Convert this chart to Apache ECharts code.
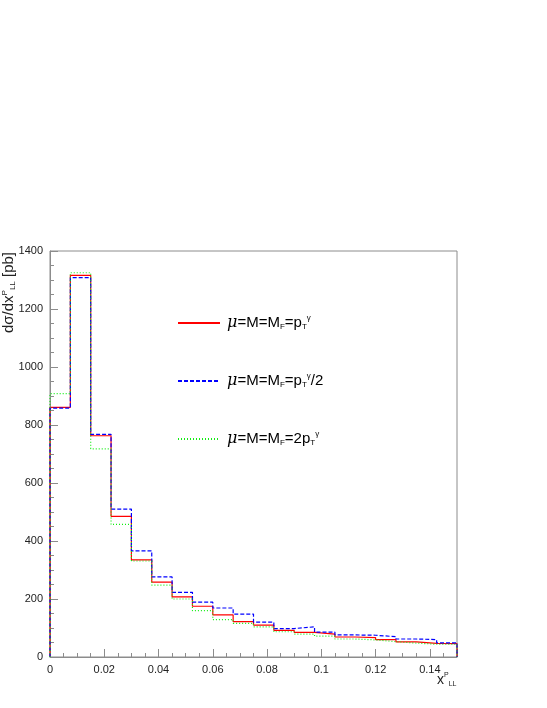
<!DOCTYPE html>
<html lang="en">
<head>
    <meta charset="utf-8">
    <title>dsigma/dx histogram</title>
    <script src="https://cdn.jsdelivr.net/npm/echarts@6/dist/echarts.min.js"></script>
    <style>
        html, body { margin: 0; padding: 0; background: #fff; }
        #chart { width: 547px; height: 708px; }
    </style>
</head>
<body>
    <div id="chart"></div>
    <script>
        // bin edges: 20 bins of 0.0075 from 0 to 0.15
        var binWidth = 0.0075;
        var xMax = 0.15;
        var yTicks = [0, 200, 400, 600, 800, 1000, 1200, 1400];

        var central = [861, 1316, 763, 485, 335, 258, 207, 175, 145, 122,
                       110, 92, 85, 79, 69, 67, 60, 52, 47, 46];
        var halfScale = [858, 1308, 768, 510, 366, 276, 223, 189, 169, 148,
                         120, 98, 104, 86, 76, 75, 70, 62, 60, 49];
        var doubleScale = [908, 1325, 718, 457, 331, 248, 200, 160, 129, 116,
                           104, 87, 79, 72, 62, 59, 53, 48, 44, 44];

        var names = ['central', 'half', 'double'];

        // turn bin contents into a closed step outline
        function steps(values) {
            var pts = [[0, 0]];
            for (var i = 0; i < values.length; i++) {
                pts.push([+(i * binWidth).toFixed(4), values[i]]);
            }
            pts.push([xMax, values[values.length - 1]]);
            pts.push([xMax, 0]);
            return pts;
        }

        var rich = {
            b: { fontSize: 15, fontFamily: 'Liberation Sans', color: '#000' },
            mu: { fontSize: 16, fontFamily: 'DejaVu Serif', fontStyle: 'italic', color: '#000' },
            sub: { fontSize: 8, fontFamily: 'Liberation Sans', color: '#000', padding: [8, 0, 0, 0] },
            sup: { fontSize: 8, fontFamily: 'Liberation Sans', color: '#000', padding: [0, 0, 10, 0] }
        };
        var labels = {
            central: '{mu|μ}{b|=M=M}{sub|F}{b|=p}{sub|T}{sup|γ}',
            half: '{mu|μ}{b|=M=M}{sub|F}{b|=p}{sub|T}{sup|γ}{b|/2}',
            double: '{mu|μ}{b|=M=M}{sub|F}{b|=2p}{sub|T}{sup|γ}'
        };

        var chart = echarts.init(document.getElementById('chart'), null, { renderer: 'canvas' });

        var axisColor = '#8c8c8c';

        var option = {
            animation: false,
            backgroundColor: '#fff',
            grid: {
                left: 50, top: 251, right: 90, bottom: 51,
                show: true, borderColor: axisColor, borderWidth: 1, containLabel: false
            },
            legend: {
                orient: 'vertical',
                left: 172, top: 309,
                itemWidth: 42, itemHeight: 20, itemGap: 41,
                itemStyle: { opacity: 0 },
                data: names,
                formatter: function (n) { return labels[n]; },
                textStyle: { rich: rich, padding: [0, 0, 0, 2] }
            },
            xAxis: {
                type: 'value', min: 0, max: xMax, interval: 0.02,
                axisLine: { onZero: false, lineStyle: { color: axisColor } },
                axisTick: { inside: true, length: 8, lineStyle: { color: axisColor } },
                minorTick: { show: true, splitNumber: 4, length: 4, lineStyle: { color: axisColor } },
                splitLine: { show: false },
                axisLabel: {
                    showMaxLabel: false, margin: 7, color: '#222',
                    fontSize: 11, fontFamily: 'Liberation Sans'
                }
            },
            yAxis: {
                type: 'value', min: yTicks[0], max: yTicks[yTicks.length - 1], interval: 200,
                axisLine: { show: true, lineStyle: { color: axisColor } },
                axisTick: { show: true, inside: true, length: 8, lineStyle: { color: axisColor } },
                minorTick: { show: true, splitNumber: 4, length: 4, lineStyle: { color: axisColor } },
                splitLine: { show: false },
                axisLabel: {
                    margin: 7, color: '#222', fontSize: 11, fontFamily: 'Liberation Sans',
                    formatter: function (v) { return String(v); }
                }
            },
            graphic: [
                {
                    type: 'text', x: 9, y: 252, rotation: Math.PI / 2,
                    style: {
                        text: '{b|dσ/dx}{sup|P}{sub|LL}{b| [pb]}',
                        align: 'right', verticalAlign: 'middle',
                        rich: {
                            b: { fontSize: 15, fontFamily: 'Liberation Sans', fill: '#222' },
                            sup: { fontSize: 8, fontFamily: 'Liberation Sans', fill: '#222', padding: [0, 0, 9, 0] },
                            sub: { fontSize: 8, fontFamily: 'Liberation Sans', fill: '#222', padding: [8, 0, 0, 0] }
                        }
                    }
                },
                {
                    type: 'text', x: 437, y: 680,
                    style: {
                        text: '{b|x}{sup|P}{sub|LL}',
                        align: 'left', verticalAlign: 'middle',
                        rich: {
                            b: { fontSize: 14, fontFamily: 'Liberation Sans', fill: '#222' },
                            sup: { fontSize: 7, fontFamily: 'Liberation Sans', fill: '#222', padding: [0, 0, 9, 0] },
                            sub: { fontSize: 7, fontFamily: 'Liberation Sans', fill: '#222', padding: [9, 0, 0, 0] }
                        }
                    }
                }
            ],
            series: [
                {
                    name: 'central', type: 'line', step: 'end', symbol: 'none',
                    data: steps(central),
                    lineStyle: { color: '#ff0000', width: 1.2, type: 'solid' },
                    itemStyle: { color: '#ff0000' }
                },
                {
                    name: 'half', type: 'line', step: 'end', symbol: 'none',
                    data: steps(halfScale),
                    lineStyle: { color: '#0000ff', width: 1.2, type: [4, 2] },
                    itemStyle: { color: '#0000ff' }
                },
                {
                    name: 'double', type: 'line', step: 'end', symbol: 'none',
                    data: steps(doubleScale),
                    lineStyle: { color: '#11ee11', width: 1.2, type: [1, 2] },
                    itemStyle: { color: '#11ee11' }
                }
            ]
        };

        chart.setOption(option);
    </script>
</body>
</html>
